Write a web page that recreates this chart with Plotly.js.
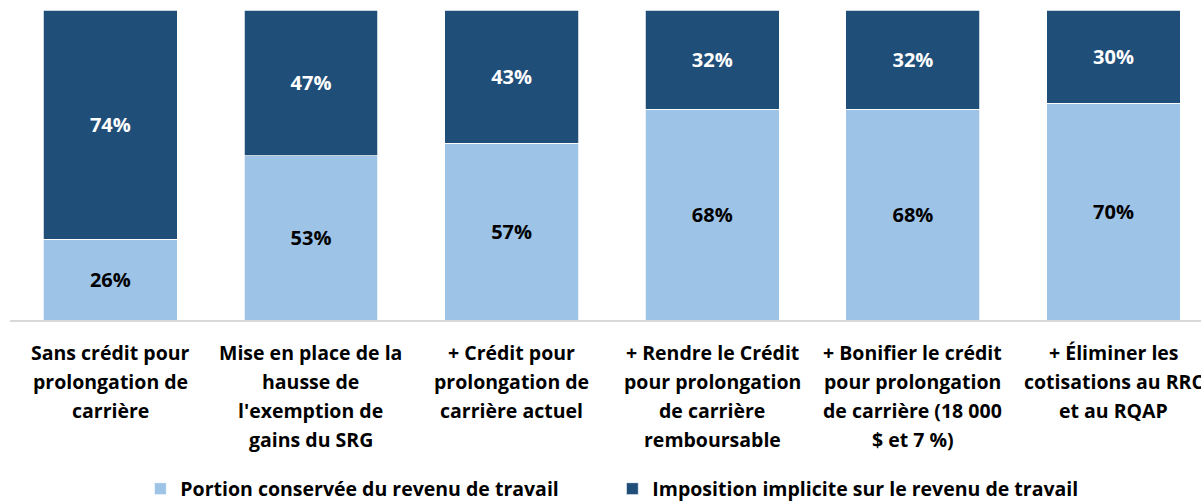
<!DOCTYPE html>
<html>
<head>
<meta charset="utf-8">
<script src="https://cdn.plot.ly/plotly-3.0.1.min.js"></script>
<style>html,body{margin:0;padding:0;background:#fff;}#chart{width:1201px;height:504px;}</style>
</head>
<body>
<div id="chart"></div>
<script>
// Data
const categoryLines = [
  ["Sans crédit pour", "prolongation de", "carrière"],
  ["Mise en place de la", "hausse de", "l'exemption de", "gains du SRG"],
  ["+ Crédit pour", "prolongation de", "carrière actuel"],
  ["+ Rendre le Crédit", "pour prolongation", "de carrière", "remboursable"],
  ["+ Bonifier le crédit", "pour prolongation", "de carrière (18 000", "$ et 7 %)"],
  ["+ Éliminer les", "cotisations au RRC", "et au RQAP"]
];
const categories = categoryLines.map(l => l.join(" "));
const conserved = [26, 53, 57, 68, 68, 70];
const implicit = [74, 47, 43, 32, 32, 30];
const seriesNames = ["Portion conservée du revenu de travail", "Imposition implicite sur le revenu de travail"];

const FONT = "'Open Sans', sans-serif";
const LIGHT = "#9DC3E6";
const DARK = "#1F4E79";

const traces = [
  {
    type: "bar", name: seriesNames[0], x: categories, y: conserved,
    marker: {color: LIGHT, line: {color: "#ffffff", width: 0.75}},
    texttemplate: "%{y}%", textposition: "inside", insidetextanchor: "middle", textangle: 0,
    textfont: {family: FONT, size: 20, color: "#000000", weight: 700},
    hoverinfo: "none"
  },
  {
    type: "bar", name: seriesNames[1], x: categories, y: implicit,
    marker: {color: DARK, line: {color: "#ffffff", width: 0.75}},
    texttemplate: "%{y}%", textposition: "inside", insidetextanchor: "middle", textangle: 0,
    textfont: {family: FONT, size: 20, color: "#ffffff", weight: 700},
    hoverinfo: "none"
  }
];

const plotTop = 10, plotBottom = 320, plotH = plotBottom - plotTop;
const annotations = [];
const lineY = [352, 381, 410, 439];
categoryLines.forEach((lines, i) => {
  lines.forEach((t, j) => {
    annotations.push({
      xref: "x", yref: "paper", x: categories[i], y: -(lineY[j] - plotBottom) / plotH,
      yanchor: "middle", xanchor: "center", showarrow: false, text: t,
      font: {family: FONT, size: 19.5, color: "#000000", weight: 700}
    });
  });
});

const layout = {
  width: 1201, height: 504,
  margin: {l: 9.6, r: 0, t: plotTop, b: 504 - plotBottom, pad: 0, autoexpand: false},
  paper_bgcolor: "#ffffff", plot_bgcolor: "#ffffff",
  barmode: "stack", bargap: 0.333,
  showlegend: true,
  legend: {
    orientation: "h", x: (140 - 9.6) / (1201 - 9.6), xanchor: "left",
    y: -(489 - plotBottom) / plotH, yanchor: "middle",
    entrywidth: 427, entrywidthmode: "pixels",
    font: {family: FONT, size: 19.5, color: "#000000", weight: 700},
    traceorder: "normal", itemclick: false
  },
  xaxis: {
    type: "category", range: [-0.5, 5.436], showticklabels: false,
    showline: true, linecolor: "#D9D9D9", linewidth: 1.5, ticks: "", showgrid: false, zeroline: false, fixedrange: true
  },
  yaxis: {
    range: [0, 100], showticklabels: false, showgrid: false, zeroline: false, showline: false, ticks: "", fixedrange: true
  },
  annotations: annotations
};

Plotly.newPlot("chart", traces, layout, {displayModeBar: false, staticPlot: true});
</script>
</body>
</html>
